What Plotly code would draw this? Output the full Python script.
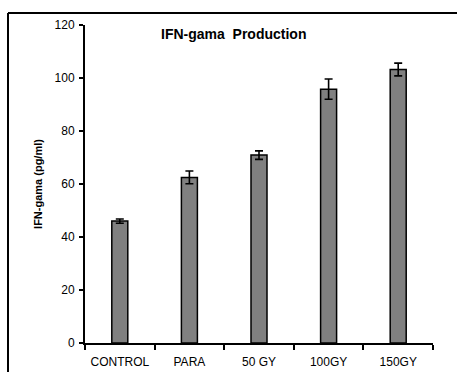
import plotly.graph_objects as go

categories = ["CONTROL", "PARA", "50 GY", "100GY", "150GY"]
values = [46.0, 62.5, 70.9, 95.8, 103.2]
errors = [0.8, 2.4, 1.6, 3.8, 2.4]
y_ticks = [0, 20, 40, 60, 80, 100, 120]

L, R, T, B = 85, 24, 25, 29
W, H = 457, 372
pw, ph = W - L - R, H - T - B

def px_x(p):
    return (p - L) / pw

def px_y(p):
    return (H - B - p) / ph

fig = go.Figure(go.Bar(
    x=categories, y=values, width=0.23,
    marker=dict(color="#808080", line=dict(color="black", width=1.5)),
    error_y=dict(type="data", array=errors, visible=True, color="black", thickness=1.6, width=4),
))

font = "Liberation Sans, Arial, sans-serif"
fig.update_layout(
    width=W, height=H,
    margin=dict(l=L, r=R, t=T, b=B),
    paper_bgcolor="white", plot_bgcolor="white",
    showlegend=False,
    font=dict(family=font, color="black", size=12),
    xaxis=dict(showline=True, linecolor="black", linewidth=2, ticks="outside", ticklen=5,
               tickwidth=2, tickcolor="black", tickson="boundaries", showgrid=False,
               tickfont=dict(size=12), ticklabelstandoff=7, automargin=False, fixedrange=True),
    yaxis=dict(range=[0, 120], tickvals=y_ticks, showline=True, linecolor="black", linewidth=2,
               ticks="outside", ticklen=4, tickwidth=2, tickcolor="black", showgrid=False,
               zeroline=False, tickfont=dict(size=12), ticklabelstandoff=2, automargin=False,
               title=dict(text="<b>IFN-gama (pg/ml)</b>", font=dict(size=11), standoff=10)),
    annotations=[dict(text="<b>IFN-gama  Production</b>", xref="paper", yref="paper",
                      x=px_x(233), y=px_y(34), xanchor="center", yanchor="middle",
                      showarrow=False, font=dict(size=14))],
    shapes=[
        dict(type="line", xref="paper", yref="paper", x0=px_x(8), x1=px_x(8),
             y0=px_y(13), y1=px_y(380), line=dict(color="black", width=2)),
        dict(type="line", xref="paper", yref="paper", x0=px_x(8), x1=px_x(470),
             y0=px_y(13), y1=px_y(13), line=dict(color="black", width=2)),
    ],
)

fig.write_html("out.html")
